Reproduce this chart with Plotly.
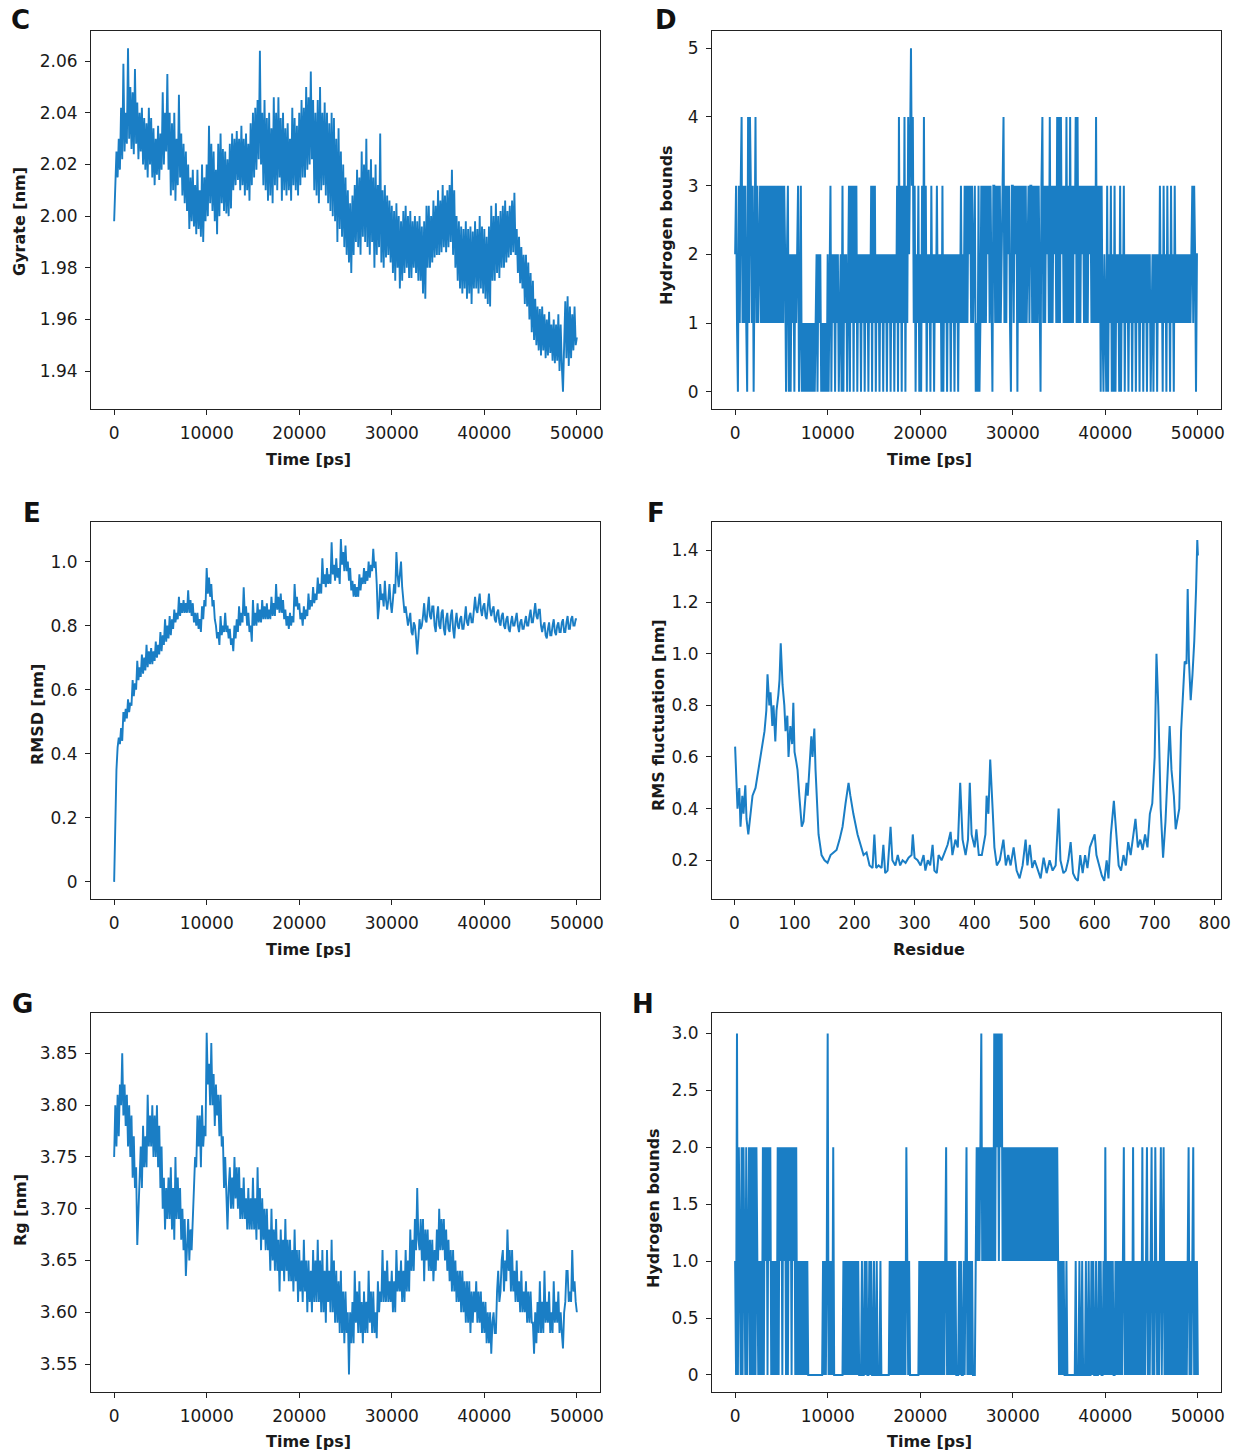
import plotly.graph_objects as go

W, H = 1244, 1454
WD = 1234  # horizontal design width used for placing domains / annotations
BLUE = "#1a7ec5"

# ---------------- data ----------------
time_c = list(range(0, 50001, 125))
gyrate_c = [
    1.998, 2.012, 2.025, 2.015, 2.030, 2.018, 2.042, 2.022, 2.059, 2.025, 2.040, 2.028, 2.065, 2.030, 2.050, 2.026,
    2.048, 2.024, 2.057, 2.028, 2.044, 2.022, 2.040, 2.025, 2.042, 2.020, 2.038, 2.018, 2.036, 2.015, 2.042, 2.020,
    2.038, 2.015, 2.034, 2.012, 2.030, 2.016, 2.035, 2.014, 2.032, 2.018, 2.048, 2.020, 2.040, 2.025, 2.055, 2.018,
    2.040, 2.008, 2.036, 2.010, 2.040, 2.006, 2.030, 2.012, 2.047, 2.015, 2.032, 2.008, 2.028, 2.005, 2.025, 2.002,
    2.020, 1.995, 2.015, 1.998, 2.018, 1.996, 2.012, 1.993, 2.018, 1.995, 2.010, 1.992, 2.020, 1.990, 2.015, 1.998,
    2.020, 2.000, 2.035, 2.005, 2.028, 2.002, 2.025, 1.998, 2.018, 1.993, 2.028, 2.000, 2.032, 2.005, 2.026, 2.002,
    2.025, 2.001, 2.022, 2.000, 2.028, 2.003, 2.032, 2.010, 2.030, 2.012, 2.033, 2.014, 2.030, 2.010, 2.035, 2.012,
    2.030, 2.008, 2.032, 2.010, 2.028, 2.006, 2.036, 2.012, 2.040, 2.015, 2.042, 2.018, 2.045, 2.022, 2.064, 2.020,
    2.040, 2.012, 2.045, 2.010, 2.038, 2.006, 2.040, 2.008, 2.034, 2.005, 2.046, 2.012, 2.040, 2.010, 2.046, 2.015,
    2.038, 2.006, 2.040, 2.010, 2.034, 2.008, 2.036, 2.010, 2.030, 2.006, 2.042, 2.012, 2.038, 2.010, 2.035, 2.008,
    2.040, 2.012, 2.045, 2.015, 2.042, 2.015, 2.050, 2.018, 2.046, 2.020, 2.056, 2.022, 2.045, 2.010, 2.040, 2.008,
    2.045, 2.005, 2.050, 2.010, 2.040, 2.012, 2.044, 2.008, 2.040, 2.005, 2.036, 2.002, 2.040, 2.000, 2.038, 1.998,
    2.030, 1.990, 2.034, 1.995, 2.025, 1.992, 2.020, 1.988, 2.015, 1.985, 2.010, 1.982, 2.005, 1.978, 2.008, 1.985,
    2.012, 1.990, 2.018, 1.988, 2.015, 1.985, 2.025, 1.992, 2.020, 1.990, 2.030, 1.988, 2.018, 1.985, 2.022, 1.990,
    2.015, 1.980, 2.020, 1.985, 2.012, 1.988, 2.032, 1.982, 2.010, 1.980, 2.012, 1.984, 2.008, 1.985, 2.006, 1.982,
    2.004, 1.978, 2.002, 1.975, 2.005, 1.980, 2.000, 1.972, 1.998, 1.975, 2.002, 1.978, 2.004, 1.980, 2.000, 1.976,
    2.002, 1.976, 1.998, 1.980, 2.000, 1.978, 1.998, 1.975, 2.000, 1.975, 1.996, 1.970, 1.998, 1.968, 2.004, 1.980,
    2.004, 1.980, 2.000, 1.982, 2.006, 1.984, 2.004, 1.985, 2.010, 1.985, 2.006, 1.986, 2.012, 1.988, 2.008, 1.986,
    2.010, 1.988, 2.012, 1.990, 2.018, 1.985, 2.010, 1.980, 2.000, 1.975, 1.998, 1.972, 1.996, 1.970, 1.995, 1.972,
    1.998, 1.968, 1.995, 1.970, 1.996, 1.966, 1.994, 1.972, 1.998, 1.972, 1.995, 1.970, 2.000, 1.972, 1.996, 1.970,
    1.995, 1.968, 1.992, 1.966, 1.996, 1.965, 2.004, 1.975, 2.000, 1.975, 2.005, 1.978, 2.000, 1.976, 2.002, 1.980,
    2.004, 1.980, 2.006, 1.982, 2.002, 1.984, 2.004, 1.985, 2.006, 1.986, 2.009, 1.985, 1.995, 1.978, 1.992, 1.974,
    1.988, 1.972, 1.985, 1.966, 1.985, 1.965, 1.982, 1.960, 1.978, 1.955, 1.975, 1.952, 1.968, 1.950, 1.965, 1.948,
    1.964, 1.946, 1.965, 1.948, 1.962, 1.945, 1.960, 1.946, 1.963, 1.947, 1.958, 1.944, 1.960, 1.943, 1.958, 1.944,
    1.962, 1.940, 1.958, 1.942, 1.932, 1.950, 1.967, 1.945, 1.969, 1.942, 1.965, 1.945, 1.962, 1.948, 1.965, 1.950,
    1.953,
]

time_d = list(range(0, 50001, 100))
hbond_d = [
    2, 3, 1, 0, 3, 1, 3, 4, 1, 3,
    1, 3, 1, 0, 4, 1, 4, 3, 1, 3,
    0, 3, 4, 1, 3, 1, 2, 3, 1, 3,
    1, 3, 1, 3, 1, 3, 1, 3, 1, 3,
    1, 3, 1, 3, 1, 3, 1, 3, 1, 3,
    1, 3, 1, 3, 2, 0, 2, 3, 0, 2,
    0, 2, 1, 2, 0, 2, 1, 2, 3, 0,
    1, 3, 0, 1, 0, 1, 0, 1, 0, 1,
    0, 1, 0, 1, 0, 1, 0, 1, 2, 0,
    2, 1, 2, 0, 1, 0, 1, 0, 1, 0,
    2, 0, 2, 3, 0, 2, 1, 2, 0, 2,
    1, 2, 0, 1, 2, 0, 3, 0, 2, 1,
    2, 0, 2, 3, 0, 3, 1, 3, 0, 3,
    1, 3, 0, 2, 1, 2, 0, 2, 1, 2,
    0, 2, 1, 2, 0, 2, 1, 3, 0, 3,
    1, 3, 0, 2, 1, 2, 0, 2, 1, 2,
    0, 2, 1, 2, 0, 2, 1, 2, 0, 2,
    1, 2, 0, 2, 1, 3, 0, 4, 1, 3,
    0, 3, 1, 4, 0, 3, 1, 4, 2, 4,
    5, 3, 4, 1, 3, 0, 2, 1, 3, 0,
    2, 0, 3, 1, 4, 1, 3, 0, 2, 1,
    2, 0, 3, 1, 2, 0, 2, 1, 3, 1,
    2, 1, 2, 0, 3, 0, 2, 1, 2, 0,
    2, 1, 2, 0, 2, 1, 2, 0, 2, 1,
    2, 0, 2, 1, 3, 1, 2, 1, 3, 1,
    3, 1, 3, 2, 3, 1, 3, 1, 2, 3,
    0, 1, 0, 3, 0, 1, 3, 1, 3, 1,
    3, 1, 3, 2, 3, 1, 3, 1, 0, 3,
    3, 1, 3, 1, 3, 1, 3, 1, 2, 3,
    4, 1, 3, 1, 3, 2, 3, 1, 0, 3,
    3, 1, 3, 2, 3, 0, 3, 1, 3, 1,
    3, 1, 3, 1, 3, 1, 2, 3, 1, 3,
    3, 1, 3, 1, 3, 1, 3, 1, 3, 1,
    0, 3, 4, 1, 3, 1, 3, 2, 3, 1,
    4, 1, 3, 1, 3, 2, 3, 1, 4, 1,
    4, 1, 4, 2, 3, 1, 3, 1, 4, 1,
    3, 1, 4, 1, 3, 1, 3, 2, 4, 1,
    4, 1, 3, 1, 3, 2, 3, 1, 3, 1,
    3, 1, 3, 2, 3, 1, 3, 1, 3, 1,
    4, 1, 3, 1, 3, 0, 3, 1, 0, 2,
    1, 0, 3, 0, 2, 1, 3, 0, 2, 0,
    3, 0, 2, 1, 2, 0, 3, 0, 2, 1,
    3, 0, 2, 1, 2, 0, 2, 1, 2, 0,
    2, 1, 2, 0, 2, 1, 2, 0, 2, 1,
    2, 0, 2, 1, 2, 0, 2, 1, 2, 0,
    1, 2, 0, 2, 1, 2, 0, 2, 1, 3,
    1, 2, 0, 3, 1, 2, 0, 3, 1, 2,
    0, 3, 1, 2, 0, 3, 1, 2, 1, 2,
    1, 2, 1, 2, 1, 2, 1, 2, 1, 2,
    1, 2, 1, 2, 3, 1, 3, 2, 0, 2,
    2,
]

time_e = list(range(0, 50001, 125))
rmsd_e = [
    0.00, 0.20, 0.35, 0.42, 0.45, 0.43, 0.48, 0.44, 0.53, 0.50, 0.54, 0.51, 0.57, 0.53, 0.56, 0.55,
    0.63, 0.58, 0.62, 0.60, 0.69, 0.63, 0.67, 0.64, 0.71, 0.65, 0.70, 0.66, 0.74, 0.67, 0.72, 0.68,
    0.73, 0.68, 0.72, 0.69, 0.75, 0.70, 0.74, 0.71, 0.78, 0.72, 0.77, 0.74, 0.82, 0.75, 0.80, 0.76,
    0.83, 0.77, 0.82, 0.79, 0.85, 0.81, 0.84, 0.82, 0.89, 0.83, 0.87, 0.84, 0.88, 0.84, 0.87, 0.84,
    0.91, 0.84, 0.88, 0.83, 0.87, 0.81, 0.84, 0.80, 0.84, 0.79, 0.82, 0.78, 0.86, 0.82, 0.88, 0.86,
    0.98, 0.90, 0.95, 0.89, 0.93, 0.86, 0.88, 0.82, 0.80, 0.76, 0.78, 0.74, 0.83, 0.77, 0.80, 0.78,
    0.84, 0.78, 0.80, 0.76, 0.79, 0.74, 0.76, 0.72, 0.80, 0.76, 0.82, 0.78, 0.86, 0.80, 0.84, 0.81,
    0.92, 0.83, 0.86, 0.80, 0.84, 0.78, 0.80, 0.75, 0.88, 0.80, 0.84, 0.80, 0.87, 0.81, 0.85, 0.81,
    0.88, 0.82, 0.86, 0.82, 0.87, 0.82, 0.85, 0.82, 0.89, 0.83, 0.87, 0.83, 0.93, 0.85, 0.89, 0.84,
    0.90, 0.84, 0.88, 0.82, 0.85, 0.80, 0.83, 0.79, 0.84, 0.80, 0.83, 0.81, 0.93, 0.86, 0.89, 0.85,
    0.87, 0.82, 0.84, 0.80, 0.86, 0.82, 0.85, 0.83, 0.90, 0.85, 0.88, 0.86, 0.92, 0.87, 0.90, 0.88,
    0.95, 0.90, 0.93, 0.90, 1.01, 0.93, 0.96, 0.92, 0.98, 0.93, 0.96, 0.93, 1.06, 0.96, 0.99, 0.94,
    1.01, 0.95, 0.98, 0.93, 1.07, 0.99, 1.03, 0.97, 1.05, 0.97, 1.00, 0.94, 0.98, 0.91, 0.94, 0.89,
    0.93, 0.89, 0.92, 0.89, 0.96, 0.91, 0.95, 0.93, 0.98, 0.93, 0.97, 0.94, 1.00, 0.95, 0.99, 0.97,
    1.04, 0.98, 1.00, 0.93, 0.82, 0.86, 0.93, 0.88, 0.90, 0.86, 0.94, 0.88, 0.85, 0.88, 0.93, 0.87,
    0.84, 0.88, 0.93, 0.90, 1.03, 0.96, 0.92, 0.96, 1.00, 0.92, 0.87, 0.84, 0.86, 0.82, 0.80, 0.82,
    0.84, 0.78, 0.77, 0.81, 0.80, 0.76, 0.71, 0.76, 0.82, 0.79, 0.80, 0.83, 0.87, 0.82, 0.81, 0.85,
    0.89, 0.83, 0.82, 0.86, 0.86, 0.80, 0.78, 0.83, 0.86, 0.80, 0.79, 0.84, 0.85, 0.79, 0.77, 0.82,
    0.84, 0.79, 0.78, 0.83, 0.85, 0.79, 0.76, 0.81, 0.84, 0.80, 0.79, 0.82, 0.83, 0.79, 0.79, 0.82,
    0.86, 0.81, 0.80, 0.83, 0.84, 0.81, 0.81, 0.85, 0.89, 0.85, 0.84, 0.87, 0.90, 0.85, 0.83, 0.86,
    0.87, 0.83, 0.82, 0.86, 0.90, 0.85, 0.83, 0.85, 0.86, 0.82, 0.81, 0.84, 0.85, 0.81, 0.80, 0.83,
    0.84, 0.80, 0.79, 0.82, 0.83, 0.79, 0.78, 0.81, 0.83, 0.80, 0.80, 0.82, 0.84, 0.80, 0.78, 0.81,
    0.82, 0.79, 0.79, 0.81, 0.83, 0.80, 0.80, 0.83, 0.85, 0.81, 0.81, 0.84, 0.87, 0.83, 0.82, 0.85,
    0.85, 0.80, 0.78, 0.80, 0.81, 0.77, 0.76, 0.79, 0.81, 0.77, 0.77, 0.80, 0.82, 0.78, 0.77, 0.80,
    0.81, 0.78, 0.78, 0.81, 0.82, 0.78, 0.78, 0.81, 0.83, 0.79, 0.79, 0.82, 0.83, 0.80, 0.80, 0.82,
    0.82,
]

residue_f = [
    1, 5, 8, 10, 13, 15, 18, 20, 23, 27, 30, 35, 40, 45, 50, 53, 55, 58, 60, 63,
    65, 68, 70, 73, 75, 77, 80, 83, 85, 88, 90, 93, 96, 98, 100, 103, 105, 108, 110, 112,
    115, 118, 120, 122, 125, 128, 130, 133, 135, 138, 140, 145, 150, 155, 160, 165, 170, 175, 180, 185,
    190, 193, 198, 205, 210, 215, 220, 225, 230, 233, 236, 240, 245, 248, 251, 255, 260, 263, 268, 272,
    276, 280, 285, 290, 295, 297, 300, 305, 310, 315, 318, 322, 326, 330, 333, 337, 340, 345, 350, 355,
    360, 363, 368, 372, 376, 380, 385, 389, 392, 395, 400, 403, 407, 412, 418, 420, 423, 426, 430, 433,
    437, 442, 448, 452, 456, 460, 465, 470, 475, 480, 485, 488, 492, 496, 500, 505, 510, 515, 520, 525,
    530, 535, 540, 543, 548, 552, 556, 560, 564, 568, 572, 576, 580, 584, 588, 592, 597, 600, 603, 607,
    612, 616, 620, 623, 627, 632, 636, 640, 644, 648, 652, 656, 660, 665, 668, 672, 676, 680, 684, 688,
    692, 696, 700, 703, 706, 710, 714, 718, 722, 725, 728, 732, 735, 738, 741, 744, 747, 750, 753, 755,
    757, 760, 763, 766, 769, 771, 772,
]
rmsf_f = [
    0.64, 0.40, 0.48, 0.33, 0.45, 0.38, 0.49, 0.36, 0.30, 0.40, 0.45, 0.48, 0.55, 0.62, 0.70, 0.78, 0.92, 0.80, 0.85, 0.72,
    0.80, 0.66, 0.78, 0.84, 0.90, 1.04, 0.88, 0.80, 0.70, 0.76, 0.60, 0.72, 0.65, 0.81, 0.62, 0.58, 0.55, 0.45, 0.40, 0.33,
    0.35, 0.45, 0.50, 0.45, 0.55, 0.68, 0.60, 0.71, 0.55, 0.40, 0.30, 0.22, 0.20, 0.19, 0.22, 0.23, 0.24, 0.28, 0.33, 0.42,
    0.50, 0.45, 0.38, 0.30, 0.26, 0.22, 0.23, 0.18, 0.17, 0.30, 0.17, 0.18, 0.17, 0.26, 0.15, 0.16, 0.33, 0.20, 0.18, 0.22,
    0.18, 0.20, 0.19, 0.21, 0.22, 0.30, 0.21, 0.20, 0.18, 0.22, 0.16, 0.20, 0.18, 0.26, 0.16, 0.15, 0.22, 0.20, 0.23, 0.26,
    0.31, 0.22, 0.28, 0.25, 0.50, 0.28, 0.22, 0.28, 0.50, 0.30, 0.25, 0.32, 0.22, 0.22, 0.30, 0.45, 0.38, 0.59, 0.40, 0.25,
    0.18, 0.20, 0.28, 0.18, 0.22, 0.18, 0.25, 0.16, 0.13, 0.18, 0.28, 0.18, 0.26, 0.17, 0.20, 0.16, 0.13, 0.21, 0.15, 0.20,
    0.16, 0.18, 0.40, 0.20, 0.15, 0.16, 0.20, 0.27, 0.15, 0.13, 0.12, 0.22, 0.15, 0.22, 0.17, 0.25, 0.28, 0.30, 0.22, 0.18,
    0.14, 0.12, 0.20, 0.13, 0.30, 0.43, 0.30, 0.18, 0.16, 0.22, 0.18, 0.27, 0.22, 0.32, 0.36, 0.25, 0.28, 0.24, 0.30, 0.25,
    0.38, 0.42, 0.60, 1.00, 0.80, 0.40, 0.21, 0.35, 0.55, 0.72, 0.55, 0.45, 0.32, 0.36, 0.40, 0.70, 0.82, 0.97, 0.96, 1.25,
    0.98, 0.82, 0.92, 1.05, 1.25, 1.44, 1.38,
]

time_g = list(range(0, 50001, 125))
rg_g = [
    3.75, 3.80, 3.76, 3.81, 3.77, 3.82, 3.80, 3.85, 3.79, 3.82, 3.78, 3.81, 3.76, 3.80, 3.75, 3.79,
    3.73, 3.77, 3.72, 3.74, 3.665, 3.70, 3.72, 3.76, 3.72, 3.78, 3.74, 3.77, 3.74, 3.81, 3.76, 3.79,
    3.76, 3.80, 3.75, 3.79, 3.75, 3.80, 3.74, 3.78, 3.72, 3.76, 3.70, 3.73, 3.68, 3.72, 3.69, 3.73,
    3.69, 3.74, 3.68, 3.72, 3.67, 3.75, 3.69, 3.73, 3.69, 3.72, 3.67, 3.70, 3.66, 3.69, 3.635, 3.66,
    3.69, 3.65, 3.68, 3.66, 3.70, 3.72, 3.75, 3.74, 3.79, 3.76, 3.79, 3.74, 3.80, 3.76, 3.78, 3.77,
    3.87, 3.82, 3.84, 3.80, 3.86, 3.80, 3.83, 3.78, 3.82, 3.79, 3.81, 3.77, 3.81, 3.76, 3.77, 3.72,
    3.75, 3.70, 3.68, 3.72, 3.74, 3.70, 3.73, 3.70, 3.75, 3.71, 3.74, 3.70, 3.74, 3.69, 3.72, 3.69,
    3.73, 3.69, 3.71, 3.68, 3.72, 3.68, 3.71, 3.68, 3.73, 3.68, 3.71, 3.67, 3.74, 3.68, 3.72, 3.66,
    3.71, 3.67, 3.70, 3.66, 3.70, 3.66, 3.68, 3.64, 3.70, 3.65, 3.68, 3.64, 3.69, 3.64, 3.67, 3.62,
    3.68, 3.64, 3.67, 3.63, 3.69, 3.64, 3.67, 3.63, 3.67, 3.63, 3.66, 3.62, 3.68, 3.63, 3.66, 3.61,
    3.66, 3.62, 3.65, 3.61, 3.67, 3.62, 3.65, 3.60, 3.65, 3.61, 3.64, 3.60, 3.66, 3.61, 3.65, 3.61,
    3.67, 3.61, 3.65, 3.60, 3.66, 3.60, 3.64, 3.59, 3.66, 3.61, 3.64, 3.60, 3.67, 3.60, 3.65, 3.59,
    3.64, 3.59, 3.63, 3.58, 3.64, 3.58, 3.62, 3.57, 3.62, 3.58, 3.60, 3.54, 3.60, 3.57, 3.61, 3.57,
    3.64, 3.59, 3.62, 3.58, 3.63, 3.58, 3.61, 3.57, 3.62, 3.58, 3.61, 3.58, 3.64, 3.59, 3.62, 3.58,
    3.62, 3.58, 3.60, 3.575, 3.63, 3.60, 3.62, 3.61, 3.66, 3.61, 3.64, 3.61, 3.65, 3.61, 3.63, 3.61,
    3.64, 3.60, 3.63, 3.60, 3.66, 3.62, 3.64, 3.62, 3.65, 3.61, 3.64, 3.61, 3.66, 3.62, 3.65, 3.62,
    3.68, 3.64, 3.67, 3.64, 3.69, 3.66, 3.72, 3.67, 3.66, 3.69, 3.65, 3.69, 3.63, 3.68, 3.65, 3.68,
    3.64, 3.67, 3.64, 3.67, 3.63, 3.66, 3.64, 3.68, 3.65, 3.70, 3.66, 3.69, 3.66, 3.69, 3.65, 3.68,
    3.64, 3.67, 3.63, 3.66, 3.62, 3.66, 3.62, 3.65, 3.61, 3.64, 3.61, 3.64, 3.60, 3.64, 3.60, 3.63,
    3.59, 3.63, 3.59, 3.63, 3.58, 3.62, 3.59, 3.62, 3.60, 3.63, 3.59, 3.62, 3.59, 3.62, 3.58, 3.61,
    3.58, 3.61, 3.57, 3.60, 3.57, 3.60, 3.56, 3.59, 3.60, 3.58, 3.58, 3.62, 3.64, 3.61, 3.62, 3.65,
    3.66, 3.62, 3.65, 3.63, 3.68, 3.64, 3.66, 3.62, 3.66, 3.62, 3.64, 3.61, 3.65, 3.61, 3.63, 3.60,
    3.64, 3.60, 3.62, 3.60, 3.63, 3.59, 3.62, 3.59, 3.62, 3.59, 3.59, 3.56, 3.60, 3.57, 3.61, 3.58,
    3.63, 3.58, 3.61, 3.58, 3.64, 3.59, 3.61, 3.59, 3.62, 3.58, 3.60, 3.58, 3.63, 3.59, 3.61, 3.59,
    3.62, 3.58, 3.60, 3.58, 3.565, 3.60, 3.61, 3.64, 3.64, 3.61, 3.62, 3.61, 3.66, 3.62, 3.63, 3.61,
    3.60,
]

time_h = list(range(0, 50001, 100))
hbond_h = [
    1, 0, 3, 0, 2, 1, 0, 2, 0, 2,
    1, 0, 2, 0, 1, 2, 0, 2, 0, 2,
    0, 2, 0, 2, 1, 0, 1, 0, 1, 0,
    2, 0, 2, 1, 2, 0, 2, 1, 2, 0,
    1, 0, 1, 0, 1, 0, 2, 0, 2, 1,
    2, 0, 2, 1, 2, 0, 2, 0, 2, 1,
    2, 0, 2, 1, 2, 0, 2, 0, 1, 0,
    1, 0, 1, 0, 1, 0, 1, 0, 1, 0,
    0, 0, 0, 0, 0, 0, 0, 0, 0, 0,
    0, 0, 0, 0, 0, 1, 0, 1, 0, 1,
    3, 0, 1, 0, 1, 0, 2, 0, 0, 0,
    0, 0, 0, 0, 0, 0, 0, 1, 0, 1,
    0, 1, 0, 1, 0, 1, 0, 1, 0, 1,
    0, 1, 0, 1, 0, 0, 0, 1, 0, 0,
    1, 0, 1, 0, 0, 1, 0, 1, 0, 0,
    1, 0, 0, 1, 0, 0, 0, 1, 0, 0,
    0, 0, 0, 0, 0, 0, 0, 1, 0, 1,
    0, 1, 0, 1, 0, 1, 0, 1, 0, 1,
    0, 1, 0, 1, 0, 2, 1, 0, 1, 0,
    0, 0, 0, 0, 0, 0, 0, 0, 0, 1,
    0, 1, 0, 1, 0, 1, 0, 1, 0, 1,
    0, 1, 0, 1, 0, 1, 0, 1, 0, 1,
    0, 1, 0, 1, 0, 1, 0, 1, 2, 0,
    1, 0, 1, 0, 1, 0, 1, 0, 1, 0,
    0, 0, 1, 0, 1, 0, 0, 1, 0, 1,
    2, 0, 1, 0, 1, 0, 1, 0, 0, 0,
    1, 2, 1, 2, 1, 2, 3, 1, 2, 1,
    2, 1, 2, 1, 2, 1, 2, 1, 2, 1,
    3, 1, 3, 2, 3, 1, 3, 2, 3, 1,
    2, 1, 2, 1, 2, 1, 2, 1, 2, 1,
    2, 1, 2, 1, 2, 1, 2, 1, 2, 1,
    2, 1, 2, 1, 2, 1, 2, 1, 2, 1,
    2, 1, 2, 1, 2, 1, 2, 1, 2, 1,
    2, 1, 2, 1, 2, 1, 2, 1, 2, 1,
    2, 1, 2, 1, 2, 1, 2, 1, 2, 1,
    0, 1, 0, 1, 0, 1, 0, 0, 1, 0,
    0, 0, 0, 0, 0, 0, 0, 0, 1, 0,
    0, 0, 1, 0, 0, 1, 0, 0, 0, 1,
    0, 0, 1, 0, 0, 1, 0, 1, 0, 0,
    1, 0, 0, 1, 0, 1, 0, 0, 1, 0,
    2, 0, 1, 0, 1, 0, 1, 0, 1, 0,
    0, 1, 0, 1, 0, 1, 0, 1, 0, 1,
    2, 0, 1, 0, 1, 0, 1, 0, 1, 0,
    2, 0, 1, 0, 1, 0, 1, 0, 1, 0,
    2, 0, 1, 0, 1, 2, 0, 1, 0, 1,
    2, 0, 1, 0, 2, 1, 0, 1, 0, 1,
    2, 0, 1, 2, 0, 1, 0, 1, 0, 1,
    0, 1, 0, 1, 0, 1, 0, 1, 0, 1,
    0, 1, 0, 1, 0, 1, 0, 1, 0, 1,
    2, 0, 1, 0, 1, 2, 0, 1, 0, 1,
    0,
]

time_ticks = [0, 10000, 20000, 30000, 40000, 50000]
residue_ticks = [0, 100, 200, 300, 400, 500, 600, 700, 800]

# ---------------- layout helpers ----------------
TICK_FONT = dict(family="DejaVu Sans", size=17, color="#1a1a1a")
TITLE_FONT = dict(family="DejaVu Sans", size=16, color="#1a1a1a")
LETTER_FONT = dict(family="DejaVu Sans", size=26, color="#111111")


def xdom(l, r):
    return [l / WD, r / WD]


def ydom(t, b):
    return [1 - b / H, 1 - t / H]


LEFT = (91, 600)
RIGHT = (712, 1221)
ROW1 = (31, 409)
ROW2 = (522, 899)
ROW3 = (1013, 1392)

panels = [
    # (x, y, cols, rows, xrange, yrange, xticks, yticks, yticktext, linewidth)
    (time_c, gyrate_c, LEFT, ROW1, [-2500, 52500], [1.9253, 2.0717], time_ticks,
     [1.94, 1.96, 1.98, 2.00, 2.02, 2.04, 2.06], ["1.94", "1.96", "1.98", "2.00", "2.02", "2.04", "2.06"], 1.9),
    (time_d, hbond_d, RIGHT, ROW1, [-2500, 52500], [-0.25, 5.25], time_ticks,
     [0, 1, 2, 3, 4, 5], ["0", "1", "2", "3", "4", "5"], 2.0),
    (time_e, rmsd_e, LEFT, ROW2, [-2500, 52500], [-0.0535, 1.1235], time_ticks,
     [0, 0.2, 0.4, 0.6, 0.8, 1.0], ["0", "0.2", "0.4", "0.6", "0.8", "1.0"], 1.9),
    (residue_f, rmsf_f, RIGHT, ROW2, [-37.5, 810.5], [0.05, 1.51], residue_ticks,
     [0.2, 0.4, 0.6, 0.8, 1.0, 1.2, 1.4], ["0.2", "0.4", "0.6", "0.8", "1.0", "1.2", "1.4"], 2.0),
    (time_g, rg_g, LEFT, ROW3, [-2500, 52500], [3.523, 3.889], time_ticks,
     [3.55, 3.60, 3.65, 3.70, 3.75, 3.80, 3.85], ["3.55", "3.60", "3.65", "3.70", "3.75", "3.80", "3.85"], 1.9),
    (time_h, hbond_h, RIGHT, ROW3, [-2500, 52500], [-0.15, 3.18], time_ticks,
     [0, 0.5, 1.0, 1.5, 2.0, 2.5, 3.0], ["0", "0.5", "1.0", "1.5", "2.0", "2.5", "3.0"], 2.0),
]

fig = go.Figure()
layout = {}
for i, (xs, ys, cols, rows, xr, yr, xt, yt, ytt, lw) in enumerate(panels, start=1):
    xa = "x" if i == 1 else f"x{i}"
    ya = "y" if i == 1 else f"y{i}"
    fig.add_trace(go.Scatter(x=xs, y=ys, mode="lines", xaxis=xa, yaxis=ya,
                             line=dict(color=BLUE, width=lw), showlegend=False,
                             hoverinfo="skip"))
    common = dict(showgrid=False, zeroline=False, showline=True, linecolor="#222",
                  linewidth=1, mirror=True, ticks="outside", ticklen=5, tickwidth=1,
                  tickcolor="#222", tickfont=TICK_FONT, ticklabelstandoff=4)
    layout["xaxis" if i == 1 else f"xaxis{i}"] = dict(
        domain=xdom(*cols), range=xr, anchor=ya, tickvals=xt,
        ticktext=[str(v) for v in xt], **common)
    layout["yaxis" if i == 1 else f"yaxis{i}"] = dict(
        domain=ydom(*rows), range=yr, anchor=xa, tickvals=yt, ticktext=ytt, **common)

fig.update_layout(**layout)

annotations = []


def ann(text, x, y, font, angle=0):
    annotations.append(dict(text=text, x=x / WD, y=1 - y / H, xref="paper", yref="paper",
                            showarrow=False, font=font, textangle=angle,
                            xanchor="center", yanchor="middle"))


# panel letters
for letter, x, y in [("C", 20, 20), ("D", 666, 20), ("E", 32, 513),
                     ("F", 656, 513), ("G", 22, 1004), ("H", 643, 1004)]:
    ann(f"<b>{letter}</b>", x, y, LETTER_FONT)

# x-axis titles
for text, x, y in [("Time [ps]", 308, 459), ("Time [ps]", 929, 459),
                   ("Time [ps]", 308, 950), ("Residue", 929, 950),
                   ("Time [ps]", 308, 1441), ("Time [ps]", 929, 1441)]:
    ann(f"<b>{text}</b>", x, y, TITLE_FONT)

# y-axis titles
for text, x, y in [("Gyrate [nm]", 20, 222), ("Hydrogen bounds", 666, 225),
                   ("RMSD [nm]", 37, 715), ("RMS fluctuation [nm]", 658, 715),
                   ("Rg [nm]", 20, 1210), ("Hydrogen bounds", 653, 1208)]:
    ann(f"<b>{text}</b>", x, y, TITLE_FONT, angle=-90)

fig.update_layout(width=W, height=H, margin=dict(l=0, r=0, t=0, b=0),
                  paper_bgcolor="white", plot_bgcolor="white",
                  annotations=annotations)

fig.write_html("out.html", config={"responsive": False},
               post_script="document.body.style.margin='0';document.body.style.overflow='hidden';")
